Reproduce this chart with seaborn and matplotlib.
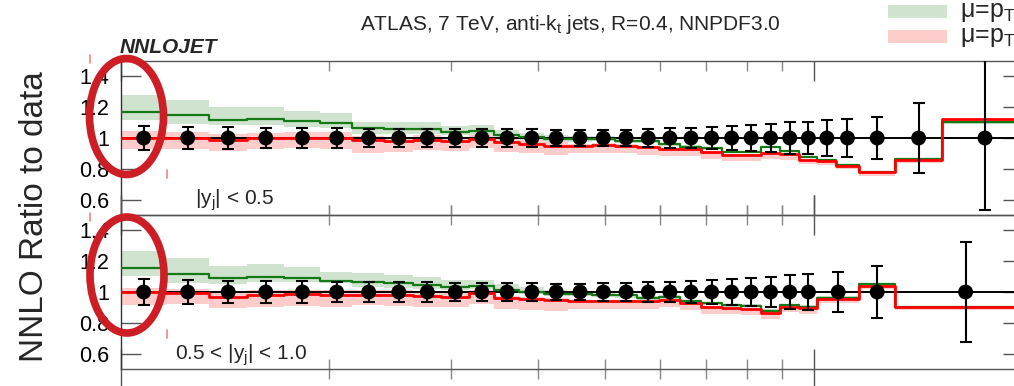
import matplotlib
matplotlib.use("Agg")
import matplotlib.pyplot as plt
import seaborn as sns
from matplotlib.patches import Ellipse, Rectangle
from matplotlib.lines import Line2D
from matplotlib.ticker import FixedLocator, NullFormatter

# ---------------- data ----------------
edges_p1 = [100, 116, 134, 152, 172, 194, 216, 240, 264, 290, 318, 346, 376, 408, 442, 478, 516,
            556, 598, 642, 688, 736, 786, 838, 894, 952, 1012, 1076, 1162, 1310, 1530, 1992]
pts_p1 = [108, 125, 143, 162, 183, 205, 228, 252, 277, 304, 332, 361, 392, 425, 460, 497, 536,
          577, 620, 665, 712, 761, 812, 866, 923, 982, 1044, 1118, 1234, 1416, 1765]
err_lo_p1 = [0.079, 0.074, 0.069, 0.067, 0.064, 0.063, 0.060, 0.060, 0.058, 0.057, 0.057, 0.057, 0.056,
             0.054, 0.054, 0.053, 0.055, 0.058, 0.063, 0.067, 0.073, 0.078, 0.086, 0.092, 0.101, 0.106,
             0.118, 0.122, 0.134, 0.228, 0.47]
err_hi_p1 = [0.079, 0.074, 0.069, 0.067, 0.064, 0.063, 0.060, 0.060, 0.058, 0.057, 0.057, 0.057, 0.056,
             0.054, 0.054, 0.053, 0.055, 0.058, 0.063, 0.067, 0.073, 0.078, 0.086, 0.092, 0.101, 0.106,
             0.118, 0.122, 0.134, 0.228, 0.60]
green_p1 = [1.171, 1.149, 1.117, 1.123, 1.110, 1.099, 1.063, 1.058, 1.058, 1.041, 1.047, 1.019, 1.004,
            0.994, 0.991, 0.994, 0.981, 0.981, 0.959, 0.944, 0.933, 0.911, 0.911, 0.944, 0.918, 0.879,
            0.857, 0.825, 0.781, 0.862, 1.102]
green_lo_p1 = [1.117, 1.091, 1.084, 1.084, 1.073, 1.067, 1.026, 1.026, 1.026, 1.019, 1.019, 0.998, 0.985,
               0.975, 0.975, 0.978, 0.966, 0.966, 0.946, 0.932, 0.921, 0.900, 0.900, 0.932, 0.907, 0.870,
               0.849, 0.817, 0.773, 0.853, 1.093]
green_hi_p1 = [1.279, 1.247, 1.199, 1.203, 1.177, 1.164, 1.106, 1.102, 1.106, 1.080, 1.084, 1.052, 1.030,
               1.018, 1.010, 1.010, 0.996, 0.996, 0.970, 0.952, 0.941, 0.918, 0.918, 0.950, 0.924, 0.884,
               0.862, 0.830, 0.786, 0.867, 1.107]
red_p1 = [1.002, 1.0, 0.987, 0.998, 1.0, 1.0, 0.987, 0.981, 0.987, 0.981, 0.994, 0.976, 0.959, 0.948,
          0.948, 0.955, 0.948, 0.939, 0.929, 0.929, 0.911, 0.890, 0.890, 0.905, 0.896, 0.857, 0.851,
          0.820, 0.777, 0.857, 1.121]
red_lo_p1 = [0.927, 0.927, 0.918, 0.927, 0.933, 0.930, 0.901, 0.911, 0.922, 0.918, 0.933, 0.911, 0.901,
             0.890, 0.900, 0.905, 0.900, 0.890, 0.885, 0.880, 0.865, 0.850, 0.850, 0.865, 0.858, 0.830,
             0.825, 0.796, 0.752, 0.835, 1.100]
red_hi_p1 = [1.045, 1.041, 1.026, 1.030, 1.041, 1.040, 1.013, 1.008, 1.019, 1.008, 1.019, 0.998, 0.987,
             0.976, 0.960, 0.965, 0.958, 0.948, 0.935, 0.935, 0.916, 0.895, 0.895, 0.910, 0.900, 0.860,
             0.854, 0.823, 0.780, 0.860, 1.124]

edges_p2 = [100, 116, 134, 152, 172, 194, 216, 240, 264, 290, 318, 346, 376, 408, 442, 478, 516,
            556, 598, 642, 688, 736, 786, 838, 894, 952, 1012, 1162, 1310, 1992]
pts_p2 = [108, 125, 143, 162, 183, 205, 228, 252, 277, 304, 332, 361, 392, 425, 460, 497, 536,
          577, 620, 665, 712, 761, 812, 866, 923, 982, 1084, 1234, 1655]
err_lo_p2 = [0.087, 0.079, 0.074, 0.072, 0.070, 0.067, 0.064, 0.062, 0.062, 0.060, 0.058, 0.057, 0.056,
             0.055, 0.055, 0.056, 0.058, 0.062, 0.066, 0.072, 0.078, 0.084, 0.094, 0.100, 0.109, 0.117,
             0.130, 0.166, 0.323]
err_hi_p2 = [0.087, 0.079, 0.074, 0.072, 0.070, 0.067, 0.064, 0.062, 0.062, 0.060, 0.058, 0.057, 0.056,
             0.055, 0.055, 0.056, 0.058, 0.062, 0.066, 0.072, 0.078, 0.084, 0.094, 0.100, 0.109, 0.117,
             0.130, 0.166, 0.323]
green_p2 = [1.158, 1.115, 1.089, 1.099, 1.093, 1.072, 1.067, 1.056, 1.045, 1.030, 1.041, 1.013, 0.998,
            0.987, 0.985, 0.982, 0.978, 0.962, 0.966, 0.942, 0.926, 0.916, 0.912, 0.879, 0.916, 0.905,
            0.963, 1.050, 0.900]
green_lo_p2 = [1.104, 1.056, 1.052, 1.067, 1.067, 1.056, 1.034, 1.024, 1.020, 1.013, 1.020, 0.995, 0.985,
               0.975, 0.972, 0.970, 0.963, 0.950, 0.955, 0.930, 0.915, 0.905, 0.901, 0.868, 0.905, 0.894,
               0.952, 1.039, 0.890]
green_hi_p2 = [1.266, 1.219, 1.171, 1.180, 1.164, 1.132, 1.121, 1.110, 1.100, 1.078, 1.080, 1.050, 1.030,
               1.010, 1.000, 0.998, 0.990, 0.975, 0.978, 0.950, 0.934, 0.924, 0.920, 0.887, 0.924, 0.913,
               0.971, 1.058, 0.908]
red_p2 = [0.998, 0.991, 0.970, 0.980, 0.985, 0.982, 0.980, 0.980, 0.974, 0.970, 0.991, 0.958, 0.955,
          0.945, 0.940, 0.940, 0.940, 0.940, 0.948, 0.926, 0.900, 0.893, 0.887, 0.862, 0.905, 0.893,
          0.955, 1.041, 0.905]
red_lo_p2 = [0.916, 0.920, 0.898, 0.905, 0.910, 0.905, 0.916, 0.910, 0.905, 0.900, 0.920, 0.890, 0.885,
             0.875, 0.890, 0.890, 0.890, 0.890, 0.905, 0.885, 0.860, 0.855, 0.850, 0.825, 0.870, 0.860,
             0.930, 1.020, 0.885]
red_hi_p2 = [1.028, 1.019, 1.002, 1.010, 1.015, 1.010, 1.013, 1.010, 1.000, 0.995, 1.010, 0.975, 0.970,
             0.960, 0.950, 0.950, 0.950, 0.950, 0.955, 0.932, 0.906, 0.899, 0.893, 0.868, 0.911, 0.899,
             0.960, 1.046, 0.910]

ytick_vals = [0.6, 0.8, 1.0, 1.2, 1.4]
ytick_labels = ["0.6", "0.8", "1", "1.2", "1.4"]
xminor_ticks = [200, 300, 400, 500, 600, 700, 800, 900]
xmajor_ticks = [100, 1000]
panel_labels = ["|y$_\\mathrm{j}$| < 0.5", "0.5 < |y$_\\mathrm{j}$| < 1.0"]
title = "ATLAS, 7 TeV, anti-k$_\\mathrm{t}$ jets, R=0.4, NNPDF3.0"
legend_labels = ["μ=p$_\\mathrm{T1}$", "μ=p$_\\mathrm{T}$"]

# ---------------- style ----------------
sns.set_theme(style="ticks")
plt.rcParams['font.family'] = ['Liberation Sans', 'DejaVu Sans']
plt.rcParams['mathtext.fontset'] = 'custom'
plt.rcParams['mathtext.rm'] = 'Liberation Sans'
plt.rcParams['mathtext.it'] = 'Liberation Sans:italic'
plt.rcParams['mathtext.bf'] = 'Liberation Sans:bold'

GREEN_LINE = '#157a15'
GREEN_BAND = '#cfe3cf'
RED_LINE = '#ff0000'
RED_BAND = '#ffcccc'
SPINE = '#555555'

W, H = 1014, 386
fig = plt.figure(figsize=(W / 100, H / 100), dpi=100)


def fx(px):
    return px / W


def fy(py):
    return 1 - py / H


x_left, x_right = 120.5, 1022.6
panel_px = [(61, 215), (215, 369)]

data = [
    (edges_p1, pts_p1, err_lo_p1, err_hi_p1, green_p1, green_lo_p1, green_hi_p1, red_p1, red_lo_p1, red_hi_p1),
    (edges_p2, pts_p2, err_lo_p2, err_hi_p2, green_p2, green_lo_p2, green_hi_p2, red_p2, red_lo_p2, red_hi_p2),
]

for i, ((top, bot), d) in enumerate(zip(panel_px, data)):
    edges, pts, elo, ehi, g, glo, ghi, r, rlo, rhi = d
    ax = fig.add_axes([fx(x_left), fy(bot), (x_right - x_left) / W, (bot - top) / H])
    ax.set_xscale('log')
    ax.set_xlim(100, 2000)
    ax.set_ylim(0.5, 1.5)

    ext = lambda v: list(v) + [v[-1]]
    ax.fill_between(edges, ext(glo), ext(ghi), step='post', color=GREEN_BAND, lw=0, zorder=1)
    ax.fill_between(edges, ext(rlo), ext(rhi), step='post', color=RED_BAND, lw=0, zorder=1.5)
    ax.axhline(1.0, color='black', lw=1.4, zorder=2)
    sns.lineplot(x=edges, y=ext(g), drawstyle='steps-post', color=GREEN_LINE, lw=1.6,
                 estimator=None, sort=False, ax=ax, zorder=3)
    sns.lineplot(x=edges, y=ext(r), drawstyle='steps-post', color=RED_LINE, lw=2.0,
                 estimator=None, sort=False, ax=ax, zorder=3.5)
    ones = [1.0] * len(pts)
    ax.errorbar(pts, ones, yerr=[elo, ehi], fmt='none', ecolor='black', elinewidth=1.5,
                capsize=4, capthick=1.5, zorder=4)
    sns.scatterplot(x=pts, y=ones, s=115, color='black', edgecolor='none', ax=ax, zorder=5)

    ax.xaxis.set_major_locator(FixedLocator(xmajor_ticks))
    ax.xaxis.set_minor_locator(FixedLocator(xminor_ticks))
    ax.xaxis.set_major_formatter(NullFormatter())
    ax.xaxis.set_minor_formatter(NullFormatter())
    ax.set_yticks(ytick_vals)
    ax.set_yticklabels(ytick_labels)
    ax.yaxis.set_minor_locator(FixedLocator([]))
    ax.set_xlabel('')
    ax.set_ylabel('')

    ax.tick_params(axis='y', which='major', direction='in', length=14.4, width=1.0, color=SPINE,
                   labelsize=15.5, pad=8, left=True, right=True, labelright=False, labelcolor='black')
    xdir = 'in' if i == 0 else 'inout'
    mult = 1 if i == 0 else 2
    ax.tick_params(axis='x', which='major', direction=xdir, length=14.4 * mult, width=1.0,
                   color=SPINE, top=True, bottom=True)
    ax.tick_params(axis='x', which='minor', direction=xdir, length=7.2 * mult, width=1.0,
                   color='#888888', top=True, bottom=True)
    for s in ax.spines.values():
        s.set_color(SPINE)
        s.set_linewidth(1.0)
    ax.spines['left'].set_color('#333333')
    ax.set_facecolor('none')

    ly = 200 if i == 0 else 355
    lx = 195 if i == 0 else 175
    fig.text(fx(lx), fy(ly), panel_labels[i], fontsize=15, ha='left', va='center')

# texts
fig.text(fx(570), fy(25), title, fontsize=15, ha='center', va='center')
fig.text(fx(120), fy(53), "NNLOJET", fontsize=15, fontweight='bold', fontstyle='italic',
         ha='left', va='baseline')
fig.text(fx(35), fy(217), "NNLO Ratio to data", fontsize=24, rotation=90, ha='center', va='center')

# legend
for k, (col, y0) in enumerate([(GREEN_BAND, 5), (RED_BAND, 30)]):
    fig.add_artist(Rectangle((fx(888), fy(y0 + 13)), 59 / W, 13 / H, transform=fig.transFigure,
                             facecolor=col, edgecolor='none'))
    fig.text(fx(960), fy(y0 + 7), legend_labels[k], fontsize=18, ha='left', va='center')

# red annotation ellipses
for cx, cy in [(126.5, 116.5), (127, 275)]:
    fig.add_artist(Ellipse((fx(cx), fy(cy)), 74 / W, 116 / H, transform=fig.transFigure,
                           fill=False, edgecolor='#cc1e24', lw=5.5))

# small red marks
for x0, y0, y1 in [(90, 55, 63), (167, 170, 178), (90, 213, 221), (167, 330, 338)]:
    fig.add_artist(Line2D([fx(x0), fx(x0)], [fy(y0), fy(y1)], transform=fig.transFigure,
                          color='#ee8888', lw=1.2))

fig.savefig("out.png", dpi=100)
